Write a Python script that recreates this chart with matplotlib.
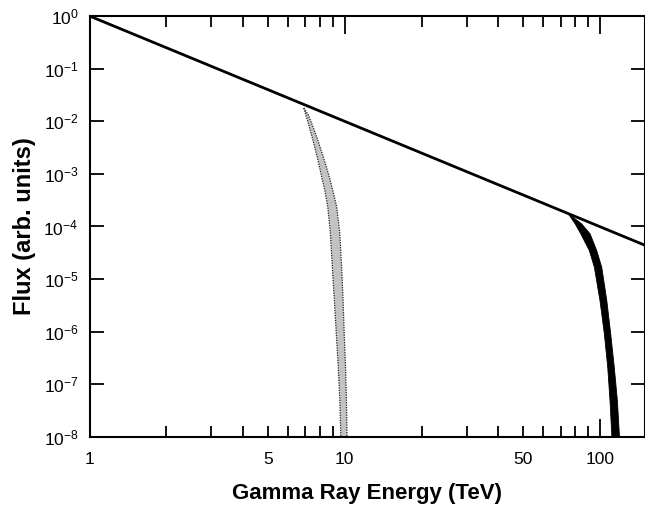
import matplotlib
matplotlib.use("Agg")
import matplotlib.pyplot as plt
from matplotlib.ticker import FixedLocator, FixedFormatter

plt.rcParams['font.family'] = ['Liberation Sans', 'DejaVu Sans']
plt.rcParams['mathtext.default'] = 'regular'

# Power-law spectrum (straight line on log-log axes)
line_E = [1.0, 150.0]
line_F = [1.0, 4.4e-5]

# Gray band: cutoff near 10 TeV (flux levels and the two edge energies)
gray_F = [0.0178, 0.01312, 8.47e-3, 4.39e-3, 2.09e-3, 9.48e-4, 4.92e-4, 2.34e-4,
          7.5e-5, 1.69e-5, 3.99e-6, 9.4e-7, 2.12e-7, 5.0e-8, 9.9e-9, 3.6e-9]
gray_left = [6.91, 7.04, 7.23, 7.50, 7.80, 8.09, 8.35, 8.58,
             8.78, 8.94, 9.10, 9.26, 9.43, 9.56, 9.65, 9.70]
gray_right = [6.91, 7.20, 7.46, 7.84, 8.24, 8.66, 8.97, 9.30,
              9.56, 9.72, 9.85, 9.95, 10.07, 10.15, 10.21, 10.25]

# Black band: cutoff near 100 TeV
black_F = [1.78e-4, 1.15e-4, 7.4e-5, 3.56e-5, 1.71e-5, 3.99e-6, 9.27e-7,
           2.15e-7, 5.0e-8, 9.9e-9, 3.6e-9]
black_left = [74.8, 79.5, 83.7, 90.4, 94.6, 99.5, 103.5, 106.7, 108.9, 110.8, 111.7]
black_right = [74.8, 84.3, 91.0, 96.6, 101.1, 105.8, 109.6, 113.2, 116.4, 118.7, 120.0]

x_major = [1, 10, 100]
x_major_labels = ['1', '10', '100']
x_minor = [2, 3, 4, 5, 6, 7, 8, 9, 20, 30, 40, 50, 60, 70, 80, 90]
x_minor_labels = ['', '', '', '5', '', '', '', '', '', '', '', '50', '', '', '', '']
y_exps = [0, -1, -2, -3, -4, -5, -6, -7, -8]

fig = plt.figure(figsize=(6.45, 5.07), dpi=100)
ax = fig.add_axes([89.5 / 645, 1 - 437 / 507, 1 - 89.5 / 645, (437 - 16) / 507])
ax.set_xscale('log')
ax.set_yscale('log')
ax.set_xlim(1, 150)
ax.set_ylim(1e-8, 1)

ax.fill_betweenx(gray_F, gray_left, gray_right, facecolor='#c2c2c2', edgecolor='none', zorder=2)
ax.plot(gray_left, gray_F, color='#222222', lw=0.9, ls=(0, (1, 1)), zorder=3)
ax.plot(gray_right, gray_F, color='#222222', lw=0.9, ls=(0, (1, 1)), zorder=3)

ax.fill_betweenx(black_F, black_left, black_right, facecolor='black', edgecolor='black',
                 lw=0.6, zorder=2)

ax.plot(line_E, line_F, color='black', lw=2.0, zorder=4, solid_capstyle='butt')

ax.xaxis.set_major_locator(FixedLocator(x_major))
ax.xaxis.set_major_formatter(FixedFormatter(x_major_labels))
ax.xaxis.set_minor_locator(FixedLocator(x_minor))
ax.xaxis.set_minor_formatter(FixedFormatter(x_minor_labels))
ax.yaxis.set_major_locator(FixedLocator([10.0 ** e for e in y_exps]))
ax.yaxis.set_major_formatter(FixedFormatter([r'$10^{%d}$' % e for e in y_exps]))
ax.yaxis.set_minor_locator(FixedLocator([]))

ax.tick_params(axis='both', which='both', direction='in', top=True, right=True,
               width=1.3, labelsize=12.5)
ax.tick_params(axis='x', which='major', length=13, pad=11)
ax.tick_params(axis='x', which='minor', length=8, pad=11)
ax.tick_params(axis='y', which='major', length=10, pad=8)
for s in ax.spines.values():
    s.set_linewidth(1.5)

ax.set_xlabel('Gamma Ray Energy (TeV)', fontsize=16, fontweight='bold', labelpad=11)
ax.set_ylabel('Flux (arb. units)', fontsize=17, fontweight='bold', labelpad=5)

fig.savefig('out.png', dpi=100)
